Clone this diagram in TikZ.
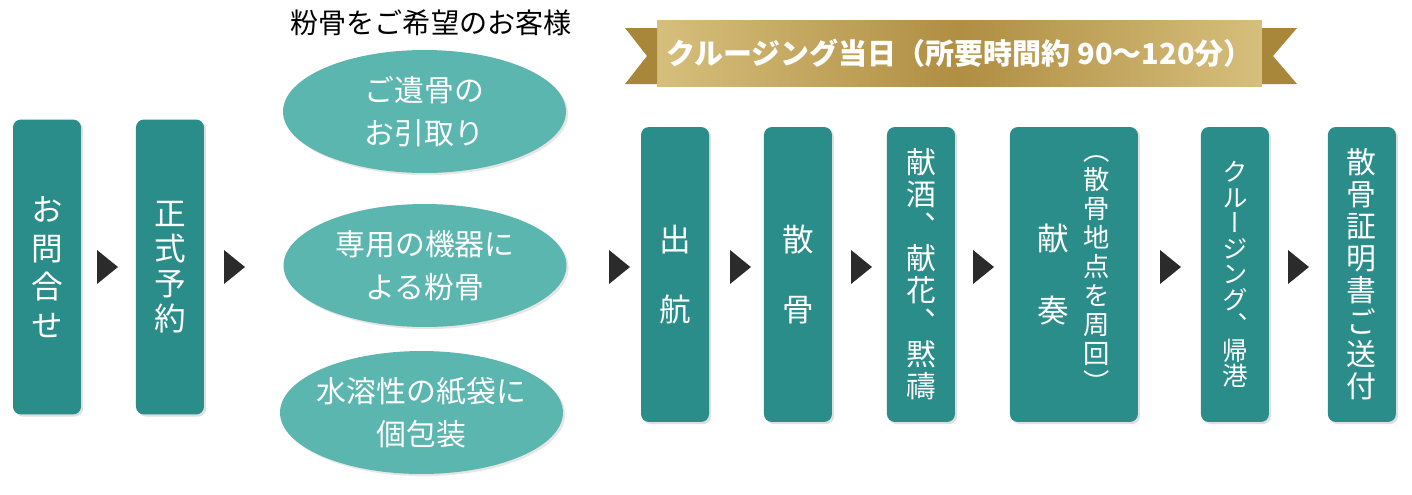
\documentclass[tikz,border=0pt]{standalone}
\usepackage{fontspec}
\setmainfont{Noto Sans CJK JP}
\newfontfamily\tatefont[RawFeature=+vert]{Noto Sans CJK JP}
\usepackage{tikz}
\usetikzlibrary{positioning,shapes.geometric,shadows,calc}
\definecolor{boxteal}{RGB}{42,141,138}
\definecolor{ovalteal}{RGB}{92,182,176}
\definecolor{arrowgray}{RGB}{43,43,43}
\definecolor{goldlight}{RGB}{214,191,124}
\definecolor{golddark}{RGB}{176,142,66}
\definecolor{goldtail}{RGB}{168,135,58}
\tikzset{tate box/.style={rectangle,fill=boxteal,rounded corners=4.5pt,
minimum width=1.36cm,minimum height=5.9cm,inner sep=0pt,outer sep=0pt,text=white,
align=center,drop shadow={shadow xshift=1.2pt,shadow yshift=-1.2pt,opacity=0.25}},
oval node/.style={ellipse,fill=ovalteal,minimum width=5.66cm,minimum height=2.46cm,
inner sep=-0.25cm,text=white,align=center,font=\fontsize{17}{24.5}\selectfont,
drop shadow={shadow xshift=1.2pt,shadow yshift=-1.2pt,opacity=0.2}},
tri/.pic={\fill[arrowgray] (-10,-17) -- (11,0) -- (-10,17) -- cycle;}}

\begin{document}
\begin{tikzpicture}[x=0.02cm,y=-0.02cm]
    \useasboundingbox (0,0) rectangle (1412,494);

    \node[tate box,font=\tatefont\fontsize{18}{22}\selectfont] (toiawase) at (47,267) {お\\問\\合\\せ};
    \node[tate box,font=\tatefont\fontsize{18}{20}\selectfont] (yoyaku) [right=1.1cm of toiawase] {正\\式\\予\\約};

    \node[font=\fontsize{16}{18}\selectfont] (okyaku) at (431,23) {粉骨をご希望のお客様};
    \node[oval node] (ikotsu) at (424.5,111.5) {ご遺骨の\\お引取り};
    \node[oval node] (funkotsu) at (425,265.5) {専用の機器に\\よる粉骨};
    \node[oval node] (kobukuro) at (421.5,412.5) {水溶性の紙袋に\\個包装};

    % banner
    \node[left color=goldlight,right color=goldlight,middle color=golddark,
        minimum width=12.1cm,minimum height=1.34cm,text=white,
        font=\bfseries\fontsize{16.5}{18}\selectfont] (tojitsu) at (959.5,53.5)
        {クルージング当日（所要時間約 90～120分）};
    \fill[goldtail] (657,28) -- (625,28) -- (647,56) -- (625,84) -- (657,84) -- cycle;
    \fill[goldtail] (1262,28) -- (1297,28) -- (1273,56) -- (1297,84) -- (1262,84) -- cycle;

    \node[tate box,font=\tatefont\fontsize{18}{21.5}\selectfont] (shukko) at (675,274.5) {出\\[18pt]航};
    \node[tate box,font=\tatefont\fontsize{18}{21.5}\selectfont] (sankotsu) [right=1.1cm of shukko] {散\\[18pt]骨};
    \node[tate box,font=\tatefont\fontsize{17}{18.2}\selectfont] (kenshu) [right=1.1cm of sankotsu] {献\\酒\\、\\献\\花\\、\\黙\\禱};
    \node[tate box,minimum width=2.56cm] (kenso) [right=1.1cm of kenshu] {};
    \node[text=white,align=center,font=\tatefont\fontsize{18}{21.5}\selectfont] (kensomei)
        at ([xshift=-0.42cm]kenso.center) {献\\[20pt]奏};
    \node[text=white,align=center,font=\tatefont\fontsize{15}{16.5}\selectfont] (kensonote)
        at ([xshift=0.46cm]kenso.center) {（\\散\\骨\\地\\点\\を\\周\\回\\）};
    \node[tate box,font=\tatefont\fontsize{14.5}{14.5}\selectfont] (kikou) [right=1.26cm of kenso] {ク\\ル\\ー\\ジ\\ン\\グ\\、\\帰\\港};
    \node[tate box,font=\tatefont\fontsize{17}{18.2}\selectfont] (shomei) [right=1.18cm of kikou] {散\\骨\\証\\明\\書\\ご\\送\\付};

    \foreach \tx in {107,234,619,740,861,983,1170,1298}
        \pic at (\tx,267) {tri};
\end{tikzpicture}
\end{document}
